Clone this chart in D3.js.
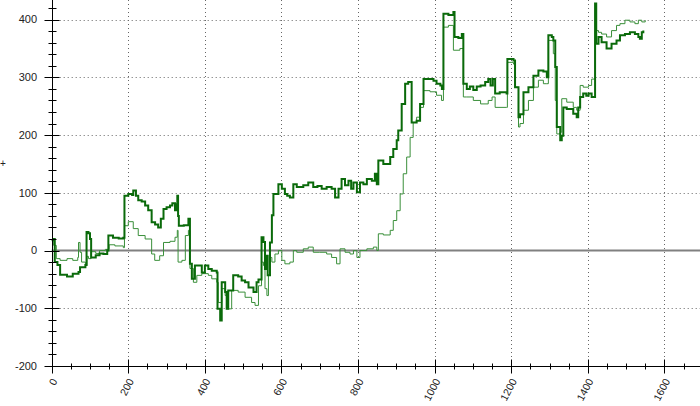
<!DOCTYPE html>
<html><head><meta charset="utf-8">
<script src="https://cdn.jsdelivr.net/npm/d3@7"></script>
<style>html,body{margin:0;padding:0;background:#fff;}svg{display:block;}</style>
</head><body>
<svg id="c" width="700" height="406"></svg>
<script>
const xMajorTicks = [0,200,400,600,800,1000,1200,1400,1600];
const yMajorTicks = [-200,-100,0,100,200,300,400];
const xTickLabels = ["0","200","400","600","800","1000","1200","1400","1600"];
const yTickLabels = ["-200","-100","0","100","200","300","400"];

const seriesAX = [0,5,8,15,22,40,55,70,74,88,91,96,100,103,115,125,135,145,148,160,175,187,190,200,210,213,220,226,235,244,252,261,270,278,285,292,300,309,315,322,326,328,330,332,345,357,361,366,374,392,400,409,418,431,433,440,444,453,457,461,474,487,496,505,514,527,535,540,548,553,557,562,564,570,575,579,592,601,609,615,622,631,640,657,670,683,694,705,718,731,740,749,757,766,775,782,788,797,805,814,823,836,844,849,853,866,875,884,892,901,905,914,923,931,937,940,953,962,971,988,997,1005,1015,1019,1023,1036,1049,1052,1062,1071,1075,1084,1092,1101,1110,1120,1132,1140,1146,1152,1158,1170,1188,1190,1206,1210,1219,1223,1232,1245,1258,1271,1284,1293,1297,1306,1310,1315,1319,1328,1332,1336,1345,1362,1371,1375,1380,1388,1396,1402,1410,1419,1422,1428,1436,1449,1462,1475,1484,1497,1510,1523,1532,1536,1541,1545];
const seriesAY = [18,20,-20,-25,-42,-45,-40,-37,-29,-25,32,30,20,-12,-8,-5,-6,0,26,22,21,22,95,98,96,104,95,87,85,78,70,49,45,40,55,72,75,78,82,70,80,95,60,43,44,55,-23,-49,-26,-38,-26,-32,-35,-38,-101,-121,-55,-72,-101,-69,-43,-45,-52,-55,-64,-72,-55,-50,23,15,-32,-9,-43,14,61,98,115,107,98,95,92,115,110,113,118,110,112,107,110,107,92,107,124,113,121,107,118,101,118,115,124,121,133,115,156,150,150,162,176,191,208,254,289,292,292,222,225,254,297,297,294,289,286,280,410,408,413,370,368,375,289,280,284,278,284,286,292,297,286,297,272,274,272,332,329,283,231,236,274,283,303,312,310,300,373,370,364,318,214,191,199,248,245,237,231,248,266,272,268,272,266,428,358,370,361,350,358,364,373,375,378,375,370,367,378,381];

const seriesBX = [0,5,12,22,40,55,68,70,74,78,88,92,96,103,115,125,140,150,165,187,190,200,213,226,244,261,269,282,292,309,322,328,330,340,349,357,361,370,379,392,409,418,431,435,444,453,457,470,487,505,522,531,540,548,553,557,562,566,570,575,583,592,601,609,622,631,640,657,670,683,700,718,731,744,753,766,779,788,797,805,823,840,849,853,866,884,892,901,910,918,927,936,944,953,962,971,988,1005,1018,1023,1036,1049,1066,1075,1084,1101,1120,1140,1150,1158,1188,1190,1206,1210,1219,1223,1232,1245,1258,1271,1284,1293,1297,1310,1315,1319,1328,1332,1345,1362,1371,1380,1388,1402,1410,1419,1428,1436,1449,1462,1475,1484,1497,1510,1523,1532,1541,1550];
const seriesBY = [18,9,-14,-17,-14,-17,-12,14,-3,-20,-26,-10,-14,-2,-5,0,2,10,8,5,43,50,38,26,20,-6,-17,-9,14,16,23,35,-20,-17,26,35,-31,-55,-43,-40,-43,-49,-55,-90,-66,-78,-101,-69,-72,-81,-90,-95,-61,-20,-26,-66,-78,-43,-12,-20,-6,0,-17,-23,-20,0,-3,3,6,-3,-3,-6,-12,-23,3,-3,-6,0,-12,0,3,6,0,29,27,35,52,69,98,133,162,196,222,231,248,277,275,269,260,387,390,347,350,266,266,260,254,260,266,248,248,326,323,283,214,220,243,260,283,295,289,289,364,341,260,202,205,263,257,248,243,286,283,286,297,381,378,375,370,381,390,393,399,396,393,399,396,399];

const W = 700, H = 406;
const x = d3.scaleLinear().domain([0, 1693]).range([51.7, 700]);
const y = d3.scaleLinear().domain([-200, 434]).range([366, 0]);
const svg = d3.select("#c");
const font = "'Liberation Sans', Arial, sans-serif";

// grid
const grid = svg.append("g");
grid.selectAll("line.gx").data(xMajorTicks.filter(d => d > 0)).enter().append("line")
  .attr("x1", d => Math.round(x(d)) + 0.5).attr("x2", d => Math.round(x(d)) + 0.5)
  .attr("y1", 0).attr("y2", y(-200))
  .attr("stroke", "#666").attr("stroke-dasharray", "1,3").attr("stroke-width", 1);
grid.selectAll("line.gy").data(yMajorTicks.filter(d => d !== 0 && d !== -200)).enter().append("line")
  .attr("y1", d => Math.round(y(d)) + 0.5).attr("y2", d => Math.round(y(d)) + 0.5)
  .attr("x1", x(0)).attr("x2", W)
  .attr("stroke", "#666").attr("stroke-dasharray", "1,3").attr("stroke-width", 1);

// zero line
svg.append("line").attr("x1", x(0)).attr("x2", W).attr("y1", y(0)).attr("y2", y(0))
  .attr("stroke", "#808080").attr("stroke-width", 2);

// series
const dataA = seriesAX.map((d, i) => [d, seriesAY[i]]);
const dataB = seriesBX.map((d, i) => [d, seriesBY[i]]);
const line = d3.line().x(d => x(d[0])).y(d => y(d[1])).curve(d3.curveStepAfter);
svg.append("path").datum(dataB).attr("d", line).attr("fill", "none")
  .attr("stroke", "#3a8f3a").attr("stroke-width", 1);
svg.append("path").datum(dataA).attr("d", line).attr("fill", "none")
  .attr("stroke", "#0a6a0a").attr("stroke-width", 2).attr("stroke-linejoin", "miter");

// axes
const ax = svg.append("g").attr("stroke", "#000").attr("stroke-width", 1);
const x0 = Math.round(x(0)) + 0.5, y0 = Math.round(y(-200)) + 0.5;
ax.append("line").attr("x1", x0).attr("x2", x0).attr("y1", 0).attr("y2", y0);
ax.append("line").attr("x1", x0).attr("x2", W).attr("y1", y0).attr("y2", y0);
const yMinor = d3.range(-200, 421, 20).filter(d => d % 100 !== 0);
ax.selectAll("line.ym").data(yMinor).enter().append("line")
  .attr("x1", x0 - 4).attr("x2", x0 + 4)
  .attr("y1", d => Math.round(y(d)) + 0.5).attr("y2", d => Math.round(y(d)) + 0.5);
ax.selectAll("line.yM").data(yMajorTicks).enter().append("line")
  .attr("x1", x0 - 8).attr("x2", x0 + 7)
  .attr("y1", d => Math.round(y(d)) + 0.5).attr("y2", d => Math.round(y(d)) + 0.5);
const xMinor = d3.range(0, 1651, 50).filter(d => d % 200 !== 0);
ax.selectAll("line.xm").data(xMinor).enter().append("line")
  .attr("y1", y0 - 3).attr("y2", y0 + 3)
  .attr("x1", d => Math.round(x(d)) + 0.5).attr("x2", d => Math.round(x(d)) + 0.5);
ax.selectAll("line.xM").data(xMajorTicks).enter().append("line")
  .attr("y1", y0 - 7).attr("y2", y0 + 7)
  .attr("x1", d => Math.round(x(d)) + 0.5).attr("x2", d => Math.round(x(d)) + 0.5);

// labels
svg.selectAll("text.yl").data(yMajorTicks).enter().append("text")
  .attr("x", 37).attr("y", d => y(d)).attr("dy", "0.35em")
  .attr("text-anchor", "end").attr("font-family", font).attr("font-size", 11)
  .attr("fill", "#222").text((d, i) => yTickLabels[i]);
svg.selectAll("text.xl").data(xMajorTicks).enter().append("text")
  .attr("transform", d => `translate(${x(d) + 6},381) rotate(-62)`)
  .attr("text-anchor", "end").attr("font-family", font).attr("font-size", 10.5)
  .attr("fill", "#222").text((d, i) => xTickLabels[i]);

// small marker at left edge
svg.append("text").attr("x", 0).attr("y", 167).attr("font-family", font)
  .attr("font-size", 10).attr("fill", "#222").text("+");
</script>
</body></html>
